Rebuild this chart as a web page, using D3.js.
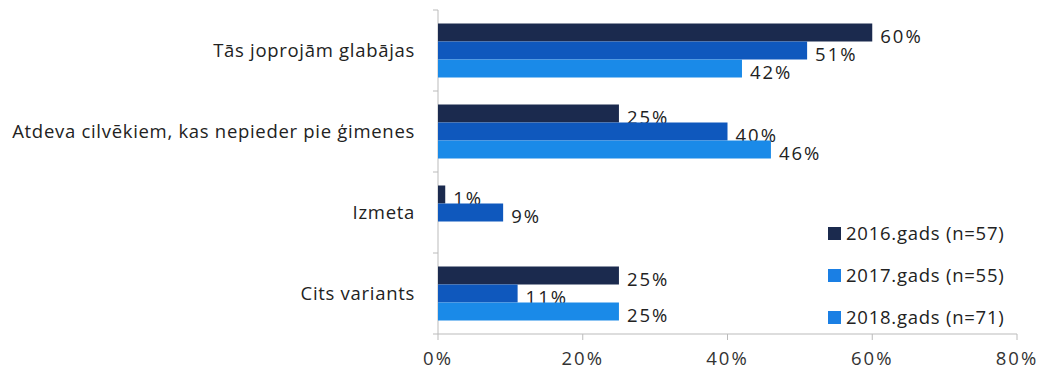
<!DOCTYPE html>
<html><head><meta charset="utf-8">
<script src="https://cdn.jsdelivr.net/npm/d3@7"></script>
<style>body{margin:0;background:#fff}svg{display:block}text{font-family:"Open Sans",sans-serif}</style>
</head><body>
<svg id="c" width="1045" height="372"></svg>
<script>
const categories = ["Tās joprojām glabājas","Atdeva cilvēkiem, kas nepieder pie ģimenes","Izmeta","Cits variants"];
const seriesNames = ["2016.gads (n=57)","2017.gads (n=55)","2018.gads (n=71)"];
const v2016 = [60, 25, 1, 25];
const v2017 = [51, 40, 9, 11];
const v2018 = [42, 46, null, 25];
const xTicks = [0, 20, 40, 60, 80];

const barColors = ["#1b2a4e", "#0f58bd", "#1a8ae8"];
const legendColors = ["#1b2a4e", "#1a7fe4", "#1a7fe4"];
const series = [v2016, v2017, v2018];

const svg = d3.select("#c");
const x = d3.scaleLinear().domain([0, 80]).range([438, 1017]);
const y = d3.scaleBand().domain(categories).range([10, 334]);
const inner = d3.scaleBand().domain([0,1,2]).range([0, 54]);
const off = (y.bandwidth() - 54) / 2;
const FS = 18.5;

// axes
svg.append("line").attr("x1", 438).attr("x2", 438).attr("y1", 10).attr("y2", 334).attr("stroke", "#bbb");
svg.append("line").attr("x1", 438).attr("x2", 1017).attr("y1", 334).attr("y2", 334).attr("stroke", "#bbb");
[0,1,2,3,4].forEach(i => {
  const yy = 10 + i * y.step();
  svg.append("line").attr("x1", 433).attr("x2", 438).attr("y1", yy).attr("y2", yy).attr("stroke", "#bbb");
});
xTicks.forEach(t => {
  svg.append("line").attr("x1", x(t)).attr("x2", x(t)).attr("y1", 334).attr("y2", 340).attr("stroke", "#bbb");
  svg.append("text").attr("x", x(t)).attr("y", 365).attr("text-anchor", "middle")
    .attr("font-size", FS).attr("letter-spacing", 2).attr("fill", "#333").text(t + "%");
});

// category labels
svg.selectAll(".cat").data(categories).enter().append("text")
  .attr("x", 415).attr("y", d => y(d) + y.bandwidth() / 2 + 6)
  .attr("text-anchor", "end").attr("font-size", FS).attr("letter-spacing", 0.7).attr("fill", "#222").text(d => d);

// bars
series.forEach((vals, si) => {
  categories.forEach((c, ci) => {
    const v = vals[ci];
    if (v == null) return;
    const by = y(c) + off + inner(si);
    svg.append("rect").attr("x", x(0)).attr("y", by).attr("width", x(v) - x(0))
      .attr("height", inner.bandwidth()).attr("fill", barColors[si]);
    svg.append("text").attr("x", x(v) + 8).attr("y", by + inner.bandwidth() / 2 + 10)
      .attr("font-size", FS).attr("letter-spacing", 2).attr("fill", "#222").text(v + "%");
  });
});

// legend
const ly = [233, 275, 317];
seriesNames.forEach((n, i) => {
  svg.append("rect").attr("x", 828).attr("y", ly[i] - 6).attr("width", 13).attr("height", 13).attr("fill", legendColors[i]);
  svg.append("text").attr("x", 846).attr("y", ly[i] + 7).attr("font-size", FS).attr("letter-spacing", 0.75).attr("fill", "#222").text(n);
});
</script>
</body></html>
